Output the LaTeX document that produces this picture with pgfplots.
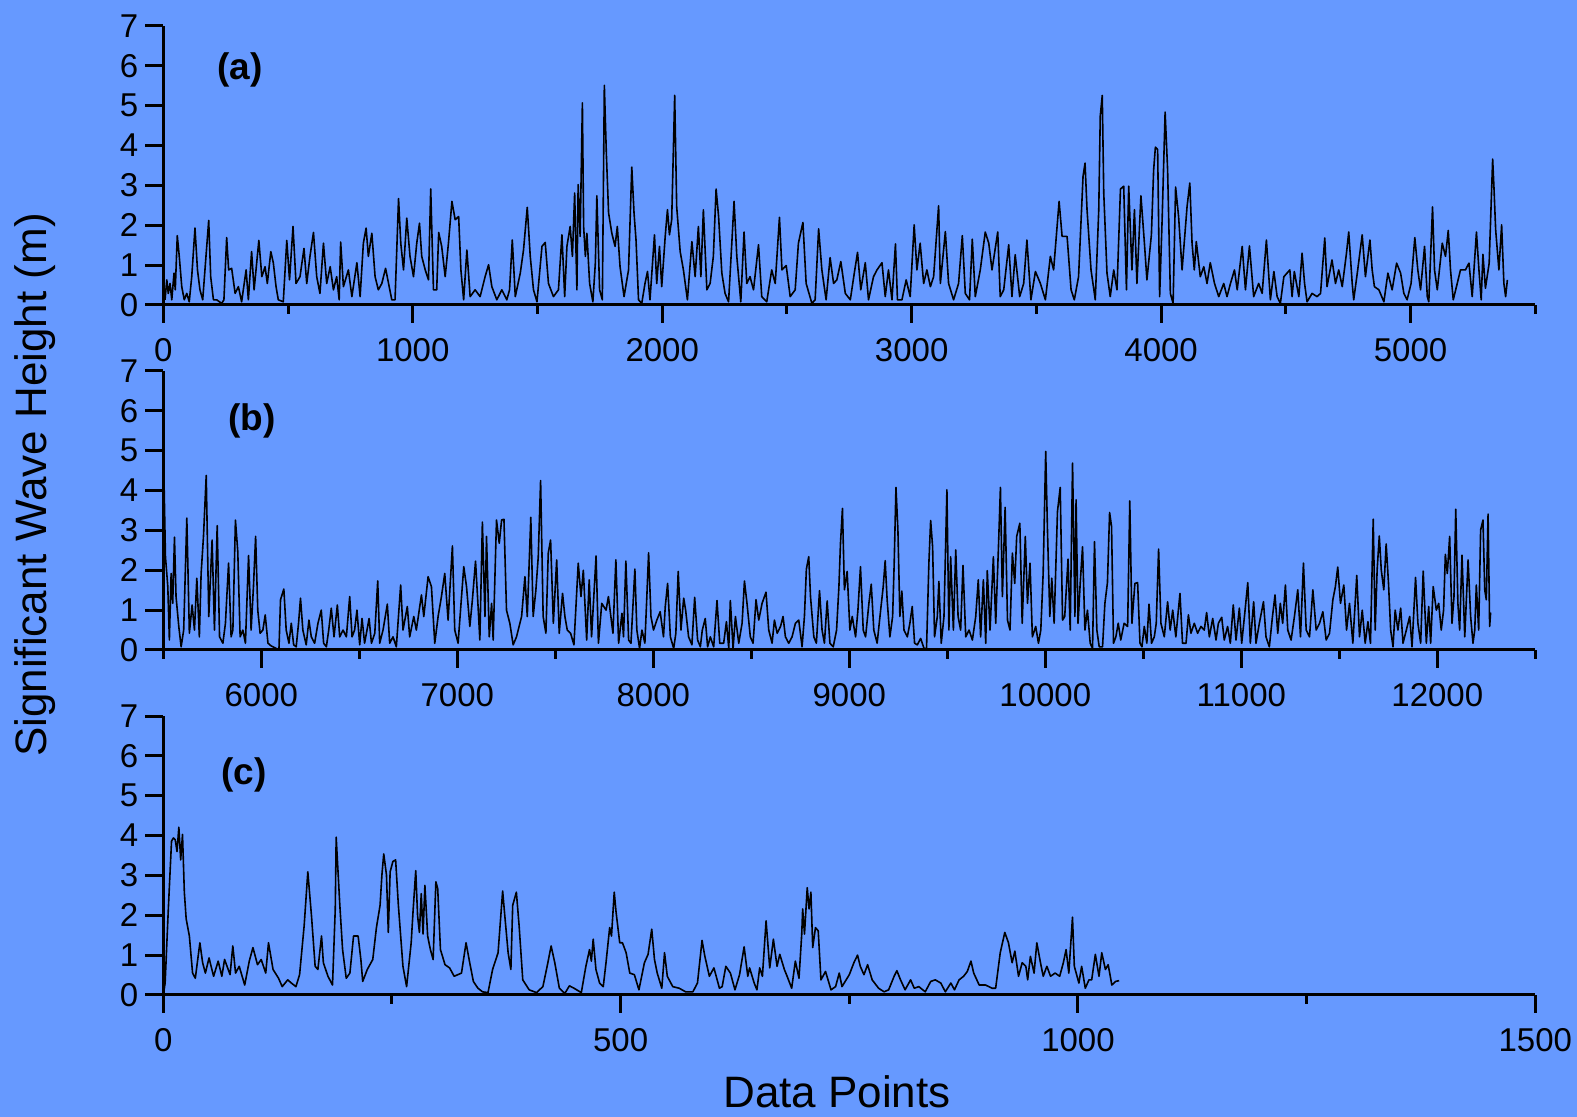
\documentclass[border=0pt]{standalone}
\usepackage{fontspec}
\setmainfont{Liberation Sans}
\usepackage{pgfplots}
\pgfplotsset{compat=1.18}
\definecolor{bgblue}{RGB}{102,153,255}

\pgfplotsset{
  panel/.style={
    scale only axis, width=686pt, height=139.5pt,
    anchor=south west,
    axis x line*=bottom, axis y line*=left,
    ymin=0, ymax=7, ytick={0,1,...,7},
    tick align=outside,
    major tick length=9pt, minor tick length=4.5pt,
    every tick/.append style={black, line width=1.5pt},
    axis line style={black, line width=1.5pt},
    tick label style={font=\fontsize{16.5}{18}\selectfont},
    xticklabel style={yshift=-4pt},
    /pgf/number format/assume math mode=true,
    /pgf/number format/1000 sep={},
    scaled x ticks=false,
  },
  wave/.style={black, line width=0.8pt, line join=round, mark=none},
}
\tikzset{plabel/.style={font=\bfseries\fontsize{18.5}{20}\selectfont}}

\begin{document}
\begin{tikzpicture}
\useasboundingbox (0,0) rectangle (788.5pt,558.5pt);
\fill[bgblue] (0,0) rectangle (788.5pt,558.5pt);

% (a)
\begin{axis}[panel, at={(81.65pt,406pt)},
    xmin=0, xmax=5500, xtick={0,1000,...,5000},
    minor xtick={500,1500,...,5500}]
\addplot[wave] coordinates {
(7,0.13) (14,0.63) (20,0.29) (27,0.54) (34,0.13) (43,0.80) (48,0.38) (56,1.74) (64,1.22) (74,0.46) (84,0.13) (94,0.29) (104,0.08) (114,0.71) (127,1.93) (137,0.88) (147,0.38) (158,0.13) (167,0.88) (182,2.12) (190,0.71) (201,0.13) (214,0.13) (234,0.04) (243,0.13) (254,1.69) (262,0.88) (274,0.92) (288,0.29) (301,0.46) (314,0.08) (332,0.88) (341,0.13) (354,1.34) (364,0.38) (383,1.62) (395,0.71) (408,0.96) (417,0.54) (431,1.34) (441,1.06) (452,0.46) (461,0.13) (481,0.08) (495,1.62) (506,0.63) (520,1.97) (532,0.54) (548,0.71) (564,1.42) (575,0.54) (588,1.22) (602,1.82) (615,0.71) (628,0.29) (642,1.55) (655,0.54) (669,0.96) (682,0.38) (695,0.71) (705,0.13) (711,1.58) (722,0.46) (742,0.88) (756,0.21) (776,1.06) (789,0.21) (802,1.55) (813,1.93) (822,1.22) (836,1.80) (849,0.71) (862,0.38) (876,0.54) (891,0.92) (903,0.54) (916,0.13) (929,0.13) (943,2.67) (952,1.55) (963,0.88) (976,2.18) (989,1.22) (1003,0.71) (1016,1.55) (1027,2.05) (1036,1.22) (1050,0.88) (1063,0.63) (1072,2.91) (1083,0.38) (1096,0.38) (1104,1.82) (1116,1.47) (1130,0.71) (1143,1.55) (1157,2.60) (1170,2.14) (1184,2.22) (1193,0.88) (1204,0.13) (1217,1.38) (1230,0.21) (1250,0.38) (1270,0.21) (1290,0.71) (1304,1.01) (1317,0.46) (1337,0.13) (1357,0.38) (1377,0.13) (1388,0.38) (1399,1.63) (1411,0.21) (1431,0.80) (1444,1.38) (1459,2.45) (1471,1.22) (1484,0.38) (1498,0.08) (1518,1.47) (1531,1.57) (1544,0.54) (1564,0.21) (1584,0.38) (1598,1.76) (1609,0.21) (1618,1.47) (1631,1.97) (1640,1.22) (1649,2.81) (1658,0.38) (1663,3.02) (1671,1.72) (1680,5.07) (1685,1.97) (1692,1.22) (1698,1.80) (1709,0.54) (1722,0.08) (1732,1.06) (1738,2.74) (1749,0.38) (1760,0.13) (1768,5.51) (1776,3.81) (1785,2.31) (1798,1.80)
(1811,1.47) (1820,1.97) (1831,0.96) (1847,0.21) (1865,0.88) (1878,3.46) (1887,2.31) (1895,1.63) (1905,0.13) (1918,0.04) (1931,0.54) (1941,0.84) (1951,0.13) (1969,1.76) (1978,0.54) (1989,1.47) (1998,0.46) (2012,1.72) (2021,2.39) (2029,1.76) (2038,2.14) (2050,5.26) (2058,2.47) (2072,1.34) (2085,0.88) (2101,0.13) (2119,1.59) (2132,0.71) (2145,1.97) (2155,0.71) (2165,2.39) (2179,0.38) (2192,0.54) (2205,1.22) (2216,2.91) (2226,2.22) (2239,0.80) (2252,0.29) (2266,0.08) (2279,1.55) (2288,2.60) (2299,1.22) (2315,0.08) (2328,1.83) (2339,0.54) (2352,0.71) (2366,0.38) (2386,1.51) (2399,0.21) (2419,0.08) (2439,0.88) (2453,0.54) (2470,2.20) (2480,0.88) (2497,0.99) (2513,0.21) (2533,0.38) (2546,1.55) (2564,2.07) (2577,0.54) (2600,0.04) (2613,0.13) (2627,1.91) (2640,0.88) (2657,0.13) (2673,1.19) (2687,0.54) (2700,0.63) (2716,1.09) (2734,0.29) (2754,0.13) (2770,0.80) (2783,1.32) (2796,0.38) (2814,1.06) (2827,0.13) (2847,0.71) (2861,0.88) (2881,1.06) (2894,0.21) (2907,0.88) (2921,0.13) (2935,1.53) (2943,0.13) (2961,0.13) (2978,0.63) (2994,0.21) (3010,2.01) (3021,0.88) (3034,1.55) (3048,0.54) (3061,0.88) (3075,0.46) (3088,0.71) (3108,2.49) (3115,0.54) (3135,1.84) (3148,0.54) (3168,0.13) (3188,0.54) (3203,1.74) (3215,0.29) (3232,0.13) (3243,1.65) (3255,0.21) (3275,0.88) (3295,1.83) (3309,1.55) (3322,0.88) (3345,1.83) (3355,0.21) (3369,0.38) (3389,1.51) (3402,0.21) (3415,1.26) (3433,0.21) (3449,0.54) (3462,1.63) (3478,0.13) (3496,0.84) (3516,0.54) (3536,0.13) (3556,1.22) (3569,0.88) (3591,2.60) (3603,1.72) (3623,1.72) (3639,0.38)
(3652,0.13) (3669,0.71) (3687,3.23) (3695,3.56) (3703,2.39) (3719,0.88) (3736,0.13) (3750,2.39) (3756,4.74) (3764,5.26) (3770,2.81) (3783,0.80) (3796,0.21) (3810,0.88) (3823,0.38) (3837,2.91) (3850,2.98) (3861,0.38) (3870,2.98) (3883,0.88) (3893,2.39) (3903,0.54) (3919,2.74) (3933,1.55) (3943,0.63) (3961,1.76) (3970,3.39) (3977,3.96) (3986,3.90) (3994,0.21) (4004,2.14) (4016,4.84) (4026,3.39) (4037,0.29) (4048,0.04) (4058,2.96) (4070,2.22) (4084,0.88) (4104,2.47) (4115,3.06) (4124,1.55) (4133,0.88) (4141,1.59) (4157,0.71) (4171,0.96) (4184,0.54) (4197,1.06) (4214,0.54) (4231,0.21) (4251,0.54) (4264,0.21) (4278,0.54) (4294,0.88) (4305,0.38) (4325,1.47) (4338,0.38) (4354,1.48) (4371,0.21) (4391,0.54) (4405,0.29) (4422,1.63) (4438,0.13) (4452,0.84) (4465,0.21) (4478,0.04) (4492,0.71) (4516,0.88) (4525,0.21) (4534,0.84) (4552,0.21) (4565,1.30) (4575,0.54) (4585,0.08) (4605,0.29) (4625,0.21) (4639,0.29) (4656,1.68) (4665,0.46) (4685,1.13) (4699,0.54) (4712,0.88) (4726,0.46) (4743,1.30) (4752,1.83) (4766,0.54) (4772,0.13) (4788,0.88) (4806,1.76) (4819,0.71) (4837,1.63) (4846,0.88) (4855,0.46) (4873,0.38) (4893,0.08) (4909,0.80) (4926,0.38) (4944,1.05) (4960,0.80) (4973,0.29) (4986,0.13) (5002,0.54) (5017,1.69) (5029,0.88) (5040,0.38) (5056,1.47) (5067,0.21) (5073,0.08) (5088,2.46) (5096,0.88) (5107,0.38) (5127,1.55) (5140,1.22) (5151,1.87) (5160,0.88) (5171,0.13) (5187,0.54) (5200,0.88) (5220,0.88) (5234,1.05) (5247,0.21) (5264,1.83) (5274,0.88) (5283,0.13) (5290,1.27) (5300,0.42) (5315,1.05) (5329,3.66) (5334,2.98) (5341,1.89) (5354,0.88) (5365,2.01) (5374,0.54) (5381,0.21) (5388,0.63)
};
\node[plabel] at (axis cs:308,5.89) {(a)};
\end{axis}

% (b)
\begin{axis}[panel, at={(81.65pt,233.5pt)},
    xmin=5500, xmax=12500, xtick={6000,7000,...,12000},
    minor xtick={5500,6500,...,12500}]
\addplot[wave] coordinates {
(5500,5.19) (5511,2.34) (5523,1.59) (5531,0.25) (5540,1.92) (5548,1.17) (5557,2.83) (5565,1.34) (5579,0.59) (5591,0.08) (5604,0.50) (5620,3.31) (5633,0.42) (5647,1.13) (5659,0.50) (5671,1.80) (5684,0.33) (5693,1.92) (5705,2.85) (5719,4.38) (5732,0.84) (5749,2.76) (5761,0.50) (5775,3.12) (5787,0.33) (5804,0.17) (5817,0.67) (5833,2.18) (5846,0.33) (5855,0.50) (5868,3.26) (5880,2.47) (5892,0.33) (5906,0.50) (5919,0.17) (5935,2.37) (5948,0.50) (5960,1.59) (5971,2.85) (5982,1.00) (5994,0.42) (6008,0.50) (6020,0.88) (6034,0.17) (6051,0.10) (6076,0.04) (6090,0) (6098,1.26) (6115,1.53) (6127,0.50) (6141,0.17) (6153,0.67) (6165,0.13) (6178,0.08) (6190,0.67) (6200,1.30) (6212,0.50) (6229,0.13) (6243,0.75) (6255,0.33) (6272,0.17) (6289,0.67) (6306,1.00) (6318,0.17) (6332,0.08) (6344,0.50) (6357,1.05) (6371,0.33) (6388,1.13) (6400,0.33) (6417,0.50) (6434,0.33) (6451,1.34) (6463,0.33) (6476,0.50) (6488,1.00) (6502,0.13) (6514,0.79) (6527,0.17) (6550,0.79) (6562,0.17) (6579,0.42) (6594,1.73) (6604,0.17) (6621,0.50) (6643,1.15) (6655,0.17) (6672,0.33) (6689,0.08) (6711,1.63) (6723,0.50) (6745,1.09) (6757,0.33) (6778,0.84) (6791,0.50) (6817,1.38) (6829,0.84) (6851,1.84) (6868,1.59) (6885,0.17) (6902,0.84) (6919,1.34) (6936,1.92) (6953,0.75) (6975,2.61) (6987,0.50) (7004,0.17) (7021,1.30) (7033,2.09) (7047,1.59) (7064,0.59) (7077,1.26) (7093,2.23) (7106,1.09) (7115,0.25) (7128,3.21) (7141,0.84) (7149,2.85) (7163,0.33) (7175,1.17) (7183,0.25) (7200,3.26) (7214,2.68) (7226,3.26) (7238,3.28) (7251,1.00) (7268,0.67) (7285,0.13) (7302,0.33) (7328,0.84) (7345,1.84) (7357,0.84) (7375,3.33) (7387,0.84) (7401,1.51) (7413,2.34) (7425,4.25) (7438,0.84) (7452,0.42) (7464,2.43) (7476,2.76) (7490,0.67) (7507,2.26) (7520,0.42) (7537,1.42) (7549,0.84) (7561,0.50) (7578,0.42) (7595,0.13) (7617,2.18) (7631,1.34) (7643,2.00) (7660,0.25) (7673,1.76) (7685,0.33) (7708,2.36) (7720,0.17) (7737,1.17) (7759,1.00) (7771,1.34)
(7794,0.42) (7809,2.26) (7823,0.17) (7840,0.92) (7848,0.33) (7860,2.23) (7874,0.25) (7886,0.17) (7906,2.03) (7916,0.50) (7930,0.04) (7942,0.50) (7957,0.17) (7967,1.34) (7976,2.44) (7988,0.84) (8001,0.50) (8018,0.75) (8035,0.96) (8052,0.33) (8061,1.09) (8073,1.67) (8087,0.33) (8104,0.04) (8115,0.42) (8127,1.97) (8141,0.50) (8155,1.30) (8165,1.00) (8180,0.33) (8197,0.13) (8211,1.32) (8226,0.25) (8240,0.08) (8250,0.50) (8265,0.79) (8277,0.08) (8291,0.33) (8308,0.08) (8325,1.24) (8339,0.17) (8359,0.17) (8373,0.71) (8385,0.04) (8393,1.24) (8407,0.04) (8419,0.84) (8436,0.17) (8453,0.67) (8465,1.73) (8478,1.17) (8495,0.33) (8509,0.17) (8524,1.26) (8538,0.75) (8555,1.17) (8575,1.45) (8589,0.50) (8606,0.17) (8618,0.75) (8632,0.42) (8649,0.59) (8662,0.84) (8674,0.33) (8691,0.17) (8708,0.33) (8725,0.67) (8742,0.75) (8759,0.08) (8771,0.84) (8781,2.03) (8793,2.34) (8802,1.34) (8819,0.33) (8832,0.17) (8848,1.49) (8861,0.50) (8873,0.17) (8887,1.23) (8901,0.17) (8918,0.08) (8935,0.50) (8947,1.59) (8955,2.68) (8965,3.55) (8975,1.51) (8989,1.97) (9003,0.50) (9015,0.84) (9032,0.33) (9044,1.00) (9057,2.09) (9071,0.50) (9083,0.33) (9100,1.17) (9112,1.65) (9125,0.50) (9142,0.17) (9159,0.96) (9173,1.59) (9183,2.24) (9193,1.26) (9207,0.33) (9221,0.84) (9229,2.18) (9238,4.08) (9248,3.01) (9258,0.84) (9268,1.48) (9279,0.50) (9296,0.33) (9309,0.67) (9321,1.09) (9333,0.17) (9347,0.13) (9364,0.29) (9381,0.04) (9394,0.04) (9406,2.18) (9415,3.25) (9425,2.59) (9435,0.33) (9449,0.84) (9457,1.72) (9469,0.17) (9483,0.84) (9498,4.02) (9508,0.50) (9517,2.34) (9531,0.50) (9543,2.51) (9555,0.84) (9568,0.50) (9580,2.12) (9594,0.33) (9611,0.50) (9628,0.25) (9645,0.84) (9658,1.76) (9670,0.33) (9684,1.76) (9696,0.17) (9704,1.99) (9718,0.50) (9735,2.34) (9747,0.67) (9761,2.59) (9771,4.08) (9781,1.34) (9795,3.58) (9807,0.75) (9820,0.50) (9832,2.43) (9844,1.67) (9854,2.85) (9870,3.18) (9882,0.67) (9898,2.85) (9909,1.17) (9922,2.18) (9934,0.33) (9951,0.59) (9965,0.17) (9977,0.50) (9989,1.92) (10002,4.98) (10011,3.01) (10023,0.84) (10033,1.80) (10045,0.67) (10062,3.47) (10076,4.08) (10088,0.75) (10099,0.84) (10116,2.28) (10127,0.50) (10139,4.69) (10151,0.84)
(10157,3.77) (10167,0.67) (10178,1.67) (10190,2.59) (10202,0.50) (10215,1.00) (10229,0.17) (10241,0.04) (10251,2.72) (10263,0.50) (10275,0.08) (10292,0.08) (10304,1.17) (10317,1.69) (10328,3.45) (10338,3.10) (10348,0.17) (10360,0.33) (10372,0.67) (10385,0.25) (10402,0.67) (10420,0.59) (10431,3.74) (10442,0.67) (10457,1.67) (10471,1.69) (10483,0.17) (10493,0.08) (10505,0.59) (10518,0.17) (10529,1.15) (10542,0.17) (10556,0.33) (10566,0.67) (10578,2.53) (10590,0.67) (10607,0.33) (10624,1.21) (10637,0.50) (10650,1.00) (10666,0.33) (10687,1.42) (10700,0.17) (10718,0.17) (10730,0.88) (10743,0.42) (10760,0.67) (10777,0.42) (10794,0.59) (10811,0.50) (10823,0.94) (10837,0.33) (10854,0.79) (10871,0.25) (10883,0.67) (10900,0.82) (10913,0.25) (10930,0.59) (10944,0.17) (10959,1.13) (10973,0.25) (10990,1.05) (11002,0.17) (11016,0.84) (11033,1.69) (11046,0.17) (11063,1.21) (11075,0.17) (11092,0.67) (11113,1.21) (11126,0.33) (11143,0.08) (11159,0.84) (11172,1.38) (11186,0.42) (11199,1.17) (11211,0.67) (11225,1.63) (11237,0.50) (11254,0.25) (11271,0.84) (11288,1.51) (11302,0.33) (11317,2.18) (11331,0.50) (11348,0.33) (11365,1.51) (11382,0.50) (11399,0.67) (11416,0.96) (11433,0.25) (11450,0.42) (11467,1.26) (11480,1.59) (11492,2.08) (11506,1.17) (11523,1.63) (11537,0.50) (11552,1.17) (11569,0.17) (11589,1.87) (11603,0.33) (11617,1.00) (11632,0.17) (11646,0.71) (11659,0.17) (11673,3.28) (11683,0.50) (11693,2.01) (11704,2.86) (11714,2.01) (11727,1.51) (11739,2.66) (11751,1.67) (11762,0.50) (11774,0.08) (11785,1.00) (11799,0.50) (11813,1.05) (11825,0.17) (11842,0.50) (11859,0.84) (11871,0.08) (11889,1.82) (11901,0.67) (11915,0.17) (11928,1.98) (11944,0.17) (11956,1.09) (11966,0.17) (11979,1.59) (11995,1.00) (12007,1.17) (12020,0.50) (12032,1.00) (12041,2.40) (12051,1.92) (12063,2.85) (12075,0.67) (12085,1.34) (12094,3.53) (12105,1.17) (12114,0.50) (12126,2.38) (12140,0.33) (12157,2.26) (12170,0.84) (12182,0.17) (12191,0.50) (12199,1.63) (12211,0.50) (12221,3.01) (12233,3.26) (12242,1.51) (12250,1.26) (12259,3.41) (12267,0.59) (12272,0.94)
};
\node[plabel] at (axis cs:5952,5.74) {(b)};
\end{axis}

% (c)
\begin{axis}[panel, at={(81.65pt,61pt)},
    xmin=0, xmax=1500, xtick={0,500,1000,1500},
    minor xtick={250,750,1250}]
\addplot[wave] coordinates {
(0,0) (2,0.30) (5.5,2.16) (9,3.86) (11,3.94) (13,3.90) (15,3.60) (17,4.21) (19,3.39) (21,4.03) (23,2.58) (25,1.91) (28.5,1.48) (32,0.55) (35,0.42) (40,1.31) (43,0.81) (46,0.55) (50,0.93) (55,0.47) (60,0.85) (64,0.47) (67,0.89) (73,0.51) (76,1.23) (79,0.55) (83,0.72) (89,0.25) (94,0.85) (98,1.19) (103,0.76) (107,0.89) (112,0.55) (115,1.31) (120,0.64) (126,0.42) (130,0.21) (136,0.38) (140,0.30) (145,0.21) (149,0.51) (154,1.74) (158,3.09) (162,1.99) (166,0.72) (169,0.64) (173,1.48) (175,0.81) (180,0.47) (185,0.25) (188,2.16) (189,3.96) (193,2.25) (196,1.14) (200,0.42) (204,0.55) (208,1.48) (213,1.48) (216,0.89) (218,0.34) (223,0.64) (229,0.89) (233,1.69) (237,2.25) (239,3.01) (241,3.54) (244,3.01) (246,1.57) (248,3.09) (251,3.35) (254,3.39) (257,2.25) (262,0.72) (266,0.21) (271,1.31) (273,2.08) (276,3.12) (278,1.99) (280,1.57) (282,2.54) (284,1.53) (286,2.75) (288,1.91) (289,1.48) (292,1.14) (295,0.89) (298,2.84) (300,2.67) (303,1.14) (308,0.76) (313,0.68) (318,0.47) (326,0.55) (331,1.31) (335,0.81) (339,0.34) (344,0.17) (349,0.08) (355,0.06) (360,0.64) (366,1.06) (371,2.61) (373,2.08) (377,1.06) (380,0.64) (382,2.25) (386,2.58) (389,1.74) (393,0.38) (400,0.13) (408,0.06) (415,0.21) (420,0.76) (424,1.23) (428,0.81) (433,0.17) (439,0.04) (444,0.23) (449,0.17) (457,0.06) (462,0.72) (466,1.14) (468,0.85) (470,1.40) (473,0.64) (477,0.30) (481,0.21) (484,0.81) (488,1.69) (490,1.48) (493,2.58) (495,2.08) (499,1.31)
(502,1.31) (506,1.06) (510,0.55) (515,0.51) (520,0.13) (526,0.81) (530,1.02) (534,1.65) (537,0.89) (540,0.55) (545,0.17) (548,1.06) (551,0.47) (557,0.21) (564,0.17) (571,0.08) (579,0.08) (584,0.30) (589,1.37) (592,0.98) (597,0.47) (602,0.68) (608,0.17) (611,0.21) (615,0.72) (620,0.55) (625,0.13) (630,0.51) (635,1.21) (639,0.47) (641,0.68) (646,0.30) (649,0.13) (652,0.68) (655,0.47) (659,1.86) (663,0.68) (667,1.40) (671,0.72) (674,1.02) (679,0.64) (682,0.47) (687,0.17) (691,0.85) (695,0.42) (698,1.53) (699,2.16) (701,1.53) (704,2.69) (706,2.16) (708,2.58) (710,1.19) (713,1.69) (716,1.61) (719,0.38) (724,0.59) (730,0.13) (735,0.21) (739,0.55) (742,0.21) (750,0.51) (755,0.81) (759,1.00) (762,0.72) (766,0.51) (770,0.76) (775,0.38) (782,0.17) (788,0.08) (793,0.13) (799,0.47) (802,0.61) (806,0.38) (811,0.13) (817,0.38) (821,0.17) (826,0.21) (833,0.08) (839,0.34) (844,0.38) (850,0.30) (855,0.08) (861,0.30) (865,0.13) (870,0.38) (875,0.47) (879,0.59) (883,0.85) (886,0.55) (892,0.25) (899,0.25) (906,0.17) (910,0.17) (915,1.06) (920,1.57) (924,1.31) (928,0.81) (931,1.10) (935,0.47) (939,0.81) (943,0.72) (945,0.38) (948,0.97) (952,0.55) (955,1.31) (959,0.81) (962,0.47) (966,0.72) (970,0.47) (975,0.55) (980,0.47) (984,0.81) (987,1.14) (990,0.55) (994,1.95) (996,0.72) (1001,0.30) (1004,0.72) (1008,0.17) (1012,0.38) (1015,0.38) (1019,1.02) (1023,0.47) (1026,1.06) (1030,0.64) (1033,0.76) (1035,0.51) (1037,0.25) (1041,0.34) (1045,0.36)
};
\node[plabel] at (axis cs:88.5,5.53) {(c)};
\end{axis}

\node[rotate=90, font=\fontsize{22}{24}\selectfont] at (17.5pt,316pt) {Significant Wave Height (m)};
\node[font=\fontsize{22}{24}\selectfont] at (418.5pt,12.5pt) {Data Points};
\end{tikzpicture}
\end{document}
